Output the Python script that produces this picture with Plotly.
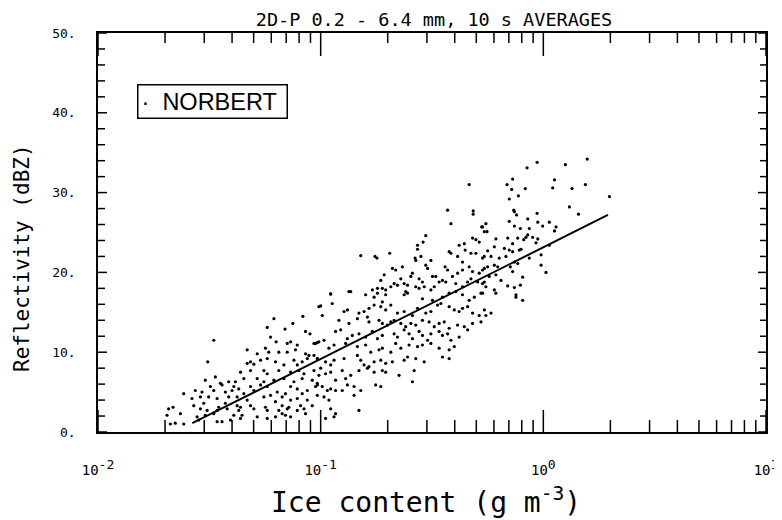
import plotly.graph_objects as go

# ---- data (log10 of ice content in g m^-3, reflectivity dBZ) ----
lx7 = [-1.00,-1.21,-1.08,-1.24,-1.16,-1.125,-1.48,-1.225,-1.20,-1.15,-1.135,-1.105,-1.068,-1.048,-1.03,-1.015,
       -1.33,-1.285,-1.248,-1.233,-1.188,-1.15,-1.113,-1.068,-1.053,-1.03,-1.015,
       -1.507,-1.33,-1.315,-1.30,-1.27,-1.24,-1.203,-1.165,-1.12,-1.083,-1.06,-1.105,
       -1.36,-1.315,-1.255,-1.24,-1.188,-1.135,-1.098,-1.075,-1.03,
       -1.518,-1.473,-1.45,-1.413,-1.383,-1.345,-1.285,-1.255,-1.21,-1.165,-1.12,-1.083,-1.038,-1.015,
       -1.495,-1.443,-1.39,-1.368,-1.315,-1.27,-1.24,-1.135,-1.105,-1.06,-1.023,
       -1.563,-1.533,-1.48,-1.428,-1.398,-1.345,-1.30,-1.195,-1.158,-1.083,
       -1.615,-1.578,-1.54,-1.503,-1.465,-1.413,-1.375,-1.33,-1.255,-1.225,-1.173,-1.135,-1.105,-1.06,-1.015,
       -1.57,-1.525,-1.458,-1.428,-1.375,-1.36,-1.315,-1.248,-1.203,-1.173,-1.143,-1.09,-1.038,
       -1.683,-1.663,-1.54,-1.51,-1.465,-1.42,-1.368,-1.30,-1.24,-1.188,-1.15,-1.105,-1.075,
       -1.69,-1.63,-1.555,-1.518,-1.48,-1.39,-1.353,-1.285,-1.203,-1.173,-1.158,-1.135,-1.068,
       -1.675,-1.653,-1.615,-1.548,-1.465,-1.443,-1.405,-1.36,-1.24]
db7 = [15.8,14.2,14.5,13.1,12.9,13.6,11.5,11.9,11.3,11.1,11.3,10.9,12.6,12.3,11.1,11.2,
       10.3,9.8,10.5,10.0,10.0,10.0,10.3,9.8,9.6,9.6,9.2,
       8.8,8.6,8.8,8.5,9.0,9.2,8.8,8.4,9.0,8.8,9.2,8.4,
       7.5,7.7,7.7,7.3,7.7,7.5,7.7,7.3,7.7,
       6.5,6.9,6.1,6.3,6.3,6.7,6.7,6.3,6.5,6.7,6.3,6.7,6.5,6.1,
       5.7,5.9,5.7,5.4,5.7,5.9,5.7,5.7,5.4,5.2,5.7,
       5.2,5.0,5.2,5.0,5.2,4.8,5.2,5.0,4.8,4.8,
       4.8,4.2,4.4,4.4,4.2,4.4,4.4,4.0,4.4,4.6,4.4,4.0,4.2,4.0,4.6,
       3.3,3.6,3.1,3.6,3.3,3.1,3.3,3.1,3.8,3.3,3.1,3.3,3.3,
       2.9,3.1,2.9,2.7,2.7,2.9,2.7,2.9,2.7,2.7,2.9,2.7,2.9,
       2.1,2.3,1.9,2.1,2.3,2.1,2.1,1.9,1.9,2.3,2.1,1.9,2.3,
       1.0,1.1,1.0,1.5,1.3,1.3,1.5,1.7,1.7]

lx9 = [-0.955,-0.873,-0.798,-0.76,-0.745,-0.723,-0.708,-0.625,-0.61,-0.543,-0.498,-0.453,-0.423,-0.393,-0.363,-0.333,-0.31,-0.28,
       -1.008,-0.948,-0.895,-0.88,-0.828,-0.805,-0.783,-0.76,-0.73,-0.708,-0.685,-0.655,-0.625,-0.588,-0.565,-0.528,-0.505,-0.475,-0.46,-0.423,-0.40,-0.378,-0.363,-0.34,-0.318,-0.288,-0.265,
       -0.993,-0.918,-0.873,-0.835,-0.79,-0.783,-0.738,-0.723,-0.70,-0.685,-0.67,-0.64,-0.618,-0.595,-0.573,-0.543,-0.513,-0.49,-0.468,-0.445,-0.423,-0.385,-0.355,-0.318,-0.28,
       -0.933,-0.91,-0.88,-0.858,-0.828,-0.798,-0.768,-0.745,-0.723,-0.67,-0.655,-0.625,-0.603,-0.588,-0.558,-0.543,-0.52,-0.505,-0.468,-0.453,-0.43,-0.415,-0.378,-0.34,
       -1.023,-1.008,-0.985,-0.963,-0.94,-0.888,-0.835,-0.798,-0.775,-0.738,-0.723,-0.685,-0.663,-0.64,-0.603,-0.565,-0.543,-0.505,-0.468,-0.423,-0.40,
       -1.015,-1.0,-0.978,-0.955,-0.94,-0.895,-0.835,-0.82,-0.805,-0.783,-0.76,-0.73,-0.708,-0.678,-0.625,-0.61,-0.573,-0.535,-0.453,-0.423,
       -1.008,-0.978,-0.955,-0.933,-0.903,-0.888,-0.865,-0.828,-0.79,-0.76,-0.723,-0.708,-0.648,-0.58,
       -1.015,-0.993,-0.97,-0.955,-0.933,-0.903,-0.88,-0.85,-0.82,-0.753,-0.73,-0.588,
       -0.985,-0.963,-0.85,-0.955,-0.933,-0.94,-0.828,-0.978]
db9 = [17.3,17.6,17.2,16.9,17.4,16.3,17.2,17.2,17.4,16.7,16.5,16.9,17.4,17.6,17.2,16.5,16.9,17.4,
       15.7,16.1,15.1,15.3,14.9,15.1,15.5,15.9,15.7,15.3,15.9,14.9,15.1,14.6,15.5,14.9,15.1,15.9,16.1,15.7,15.3,15.1,15.5,15.7,14.9,14.6,15.3,
       14.6,14.0,13.6,14.2,14.4,13.8,14.0,13.6,13.4,13.8,14.0,13.6,13.2,13.6,13.4,14.0,13.8,13.2,13.6,13.8,13.0,13.4,13.2,13.6,13.8,
       12.6,12.8,11.7,12.1,12.3,11.9,12.6,11.7,12.1,12.3,11.9,12.8,12.3,11.7,12.6,12.1,11.5,12.3,12.6,12.1,12.3,11.5,11.9,12.8,
       11.1,11.3,11.5,10.5,10.9,11.1,10.7,10.9,10.0,10.3,10.5,10.0,11.1,10.5,10.9,10.7,10.9,11.1,10.5,10.3,10.7,
       9.2,8.0,8.8,8.4,9.0,9.2,9.6,9.0,8.4,8.2,8.8,9.0,8.6,8.8,9.0,9.4,9.2,8.8,9.4,9.2,
       7.1,7.3,7.5,6.5,7.7,6.7,7.1,7.7,8.0,7.5,7.7,7.5,7.1,7.7,
       5.9,5.7,5.2,5.4,5.2,5.2,5.9,5.7,5.2,5.9,5.7,6.3,
       4.4,4.0,4.6,2.9,2.3,1.9,2.7,1.7]

lx10 = [-0.333,-0.43,-0.415,-0.315,-0.315,-0.277,-0.265,-0.82,-0.756,-0.747,-0.69,-0.528,-0.54,-0.565,-0.565,-0.576,-0.573,-0.55,-0.505,-0.528,-0.52,
        -0.378,-0.355,-0.351,-0.318,-0.303,-0.288,-0.325,-0.303,-0.273,-0.385,-0.363,-0.423,-0.415,-0.441,-0.43,-0.408,-0.385,-0.363,-0.333,-0.318,-0.325,-0.288,-0.265,
        -0.678,-0.663,-0.633,-0.588,-0.595,-0.558,-0.543,-0.498,-0.483,-0.453,-0.438,-0.64,-0.67,-0.655,-0.625,-0.61,-0.715,-0.73,-0.723,-0.708,-0.685,-0.573,-0.558,-0.535,-0.49,-0.468,-0.393,-0.363,-0.34,-0.295,-0.273,
        -0.865,-0.955,-0.768,-0.745,-0.618,-0.505]
db10 = [31.0,27.8,26.1,27.7,27.3,25.7,25.1,22.1,22.0,21.8,22.4,24.6,23.8,23.4,22.9,21.8,21.5,22.0,21.5,20.9,20.5,
        23.4,23.6,22.8,24.3,24.1,23.8,22.4,22.4,21.8,22.0,21.3,22.6,22.4,20.7,20.3,19.5,19.9,20.3,20.7,20.1,19.2,19.9,20.5,
        20.5,20.3,20.7,19.9,19.5,19.2,18.8,19.5,19.5,19.0,18.8,19.2,18.6,18.4,18.6,18.4,19.7,19.0,18.0,17.8,18.2,18.2,18.0,18.2,18.2,18.8,18.6,18.2,18.8,18.8,18.6,
        17.6,17.3,17.8,18.0,17.6,17.8]

lx11 = [0.197,-0.028,-0.073,0.099,0.05,-0.138,-0.163,-0.142,-0.081,0.042,0.129,0.189,0.297,-0.112,-0.153,0.117,0.158,
        -0.133,-0.13,-0.12,-0.028,-0.07,-0.153,-0.13,-0.025,-0.003,0.027,0.057,0.05,-0.103,-0.063,-0.258,-0.273,-0.253,
        -0.213,-0.16,-0.138,-0.115,-0.088,-0.07,-0.078,-0.048,-0.025,-0.033,-0.22,-0.175,-0.153,-0.138,-0.108,-0.10,-0.25,
        -0.265,-0.235,-0.198,-0.168,-0.13,-0.115,-0.063,-0.01,0.027,-0.22,-0.205,-0.25,-0.148,-0.138,-0.01,0.012,-0.093,-0.213,-0.19,
        -0.273,-0.265,-0.243,-0.258,-0.22,-0.16,-0.13,-0.103,-0.213,-0.123,-0.273,
        -0.093,-0.123,-0.235,-0.258]
db11 = [34.2,33.8,33.1,33.5,31.6,31.7,31.0,30.4,30.5,30.6,30.5,31.0,29.5,29.6,29.2,28.2,27.3,
        27.8,27.6,27.2,27.4,26.7,26.4,25.8,26.3,25.8,26.3,25.7,25.2,25.5,25.5,26.1,25.7,25.1,
        24.2,24.3,23.6,24.3,24.1,24.7,24.4,24.4,24.2,23.7,23.2,23.0,22.8,22.6,22.8,22.9,22.7,
        22.0,22.0,21.8,22.0,21.3,21.1,21.8,22.2,23.4,20.9,20.7,20.7,20.7,20.1,20.9,20.0,19.4,19.7,19.0,
        20.3,18.8,19.5,18.2,17.8,18.3,18.1,18.4,17.4,17.2,17.4,
        16.5,16.9,14.9,14.6]

# fitted line end points (ice content g m^-3, dBZ)
fit_ice = [0.0265, 1.95]
fit_dbz = [1.1, 27.2]

# axis ticks
X_MIN, X_MAX, Y_MIN, Y_MAX = 0.01, 10.0, 0.0, 50.0
x_major = [0.01, 0.1, 1, 10]
x_major_text = ['10<sup><span style="font-size:13px">-2</span></sup>',
                '10<sup><span style="font-size:13px">-1</span></sup>',
                '10<sup><span style="font-size:13px">0</span></sup>',
                '10<sup><span style="font-size:13px">1</span></sup>']
x_minor = [m * d for d in (0.01, 0.1, 1) for m in range(2, 10)]
y_major = [0, 10, 20, 30, 40, 50]
y_major_text = ["0.", "10.", "20.", "30.", "40.", "50."]
y_minor = [v for v in range(2, 50, 2) if v % 10]

series_name = "NORBERT"
title_text = "2D-P 0.2 - 6.4 mm, 10 s AVERAGES"
x_title = "Ice content (g m<sup>-3</sup>)"
y_title = "Reflectivity (dBZ)"

log_ice = lx7 + lx9 + lx10 + lx11
dbz = db7 + db9 + db10 + db11
ice = [10 ** v for v in log_ice]

MONO = "DejaVu Sans Mono"
PLOT_W, PLOT_H = 668, 399          # plot box in px
PX_PER_DB = PLOT_H / (Y_MAX - Y_MIN)
PX_PER_DECADE = PLOT_W / 3.0

fig = go.Figure()
fig.add_trace(go.Scatter(
    x=ice, y=dbz, mode="markers", name=series_name, showlegend=False,
    marker=dict(color="black", size=3.2, line=dict(width=0)),
))
fig.add_trace(go.Scatter(
    x=fit_ice, y=fit_dbz, mode="lines", showlegend=False,
    line=dict(color="black", width=2),
))

# inward tick marks drawn as one line trace (tick value + pixel length converted to axis units)
tx, ty = [], []
for v, lb, lt in [(v, 22, 23) for v in x_major] + [(v, 12, 10) for v in x_minor]:
    tx += [v, v, None, v, v, None]
    ty += [Y_MIN, Y_MIN + lb / PX_PER_DB, None, Y_MAX, Y_MAX - lt / PX_PER_DB, None]
for v, ll, lr in [(v, 9, 8) for v in y_major] + [(v, 7, 6) for v in y_minor]:
    tx += [X_MIN, X_MIN * 10 ** (ll / PX_PER_DECADE), None, X_MAX, X_MAX / 10 ** (lr / PX_PER_DECADE), None]
    ty += [v, v, None, v, v, None]
fig.add_trace(go.Scatter(x=tx, y=ty, mode="lines", showlegend=False, hoverinfo="skip",
                         line=dict(color="black", width=1.5), cliponaxis=False, connectgaps=False))

axis_common = dict(showgrid=False, zeroline=False, showline=True, linecolor="black",
                   linewidth=1.5, ticks="", mirror=True, automargin=False)

fig.update_layout(
    template="none",
    width=774, height=512,
    margin=dict(l=90, r=16, t=25, b=88, autoexpand=False),
    paper_bgcolor="white", plot_bgcolor="white",
    title=dict(text=title_text, x=0.5504, xanchor="center",
               y=0.977, yanchor="middle", font=dict(family=MONO, size=18.5, color="black")),
    xaxis=dict(type="log", range=[-2, 1], tickvals=x_major, ticktext=x_major_text,
               ticklabelstandoff=24,
               tickfont=dict(family=MONO, size=14, color="black"),
               **axis_common),
    yaxis=dict(range=[Y_MIN, Y_MAX], tickvals=y_major, ticktext=y_major_text,
               ticklabelstandoff=18,
               tickfont=dict(family=MONO, size=13, color="black"),
               **axis_common),
    annotations=[
        dict(text="·&nbsp;&nbsp;" + series_name + "&nbsp;", xref="paper", yref="paper",
             x=0.058, y=0.872, xanchor="left", yanchor="top", showarrow=False,
             font=dict(family="Liberation Sans", size=23.5, color="black"),
             bordercolor="black", borderwidth=1.5, borderpad=3, bgcolor="white"),
        dict(text=x_title, xref="paper", yref="paper", x=(426 - 98) / 668, y=-(500 - 432) / 399,
             xanchor="center", yanchor="middle", showarrow=False,
             font=dict(family=MONO, size=28, color="black")),
        dict(text=y_title, xref="paper", yref="paper", x=-(98 - 22) / 668, y=(432 - 258) / 399,
             xanchor="center", yanchor="middle", showarrow=False, textangle=-90,
             font=dict(family=MONO, size=21, color="black")),
    ],
)

fig.write_html("out.html")
